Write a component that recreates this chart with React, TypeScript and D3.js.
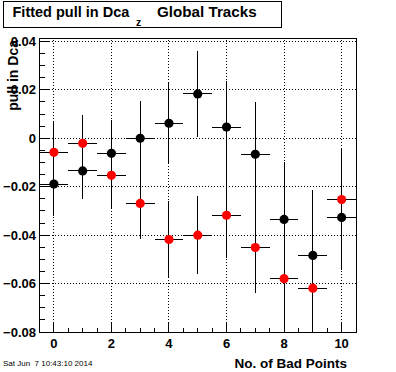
import * as d3 from 'd3'

const bins = [0, 1, 2, 3, 4, 5, 6, 7, 8, 9, 10]
const blackPull = [-0.0189, -0.0135, -0.0062, 0.0, 0.0062, 0.0183, 0.0046, -0.0066, -0.0335, -0.0484, -0.0327]
const blackErr = [0.013, 0.0116, 0.0138, 0.0152, 0.0166, 0.0178, 0.019, 0.0216, 0.0239, 0.027, 0.0215]
const redPull = [-0.0058, -0.0021, -0.0153, -0.0269, -0.0418, -0.04, -0.0318, -0.0451, -0.058, -0.0619, -0.0253]
const redErr = [0.013, 0.0116, 0.0138, 0.0145, 0.0157, 0.0162, 0.0175, 0.019, 0.0226, 0.0262, 0.0214]

const xMajor = [0, 2, 4, 6, 8, 10]
const yMajor = [-0.08, -0.06, -0.04, -0.02, 0, 0.02, 0.04]

const width = 396
const height = 372
const margin = { top: 38, right: 40, bottom: 40, left: 39.5 }
const font = '"Liberation Sans", Arial, Helvetica, sans-serif'

function Series({ values, errs, color, x, y }: {
  values: number[]
  errs: number[]
  color: string
  x: d3.ScaleLinear<number, number>
  y: d3.ScaleLinear<number, number>
}) {
  return (
    <g clipPath="url(#frame)">
      <g shapeRendering="crispEdges">
        {bins.map((b, i) => (
          <g key={b}>
            <line x1={x(b - 0.5)} x2={x(b + 0.5)} y1={y(values[i])} y2={y(values[i])} stroke="#000" />
            <line x1={x(b)} x2={x(b)} y1={y(values[i] - errs[i])} y2={y(values[i] + errs[i])} stroke="#000" />
          </g>
        ))}
      </g>
      {bins.map((b, i) => (
        <circle key={'m' + b} cx={x(b)} cy={y(values[i])} r={4.6} fill={color} />
      ))}
    </g>
  )
}

export default function App() {
  const x = d3.scaleLinear().domain([-0.5, 10.5]).range([margin.left, width - margin.right])
  const y = d3.scaleLinear().domain([-0.08, 0.0414]).range([height - margin.bottom, margin.top])
  const x0 = x.range()[0]
  const x1 = x.range()[1]
  const y0 = y.range()[0]
  const y1 = y.range()[1]

  const xMinor = d3.range(0, 10.01, 0.5)
  const yMinor = d3.range(-0.08, 0.0414, 0.005)

  return (
    <svg width={width} height={height} style={{ position: 'absolute', left: 0, top: 0, background: '#fff' }}>
      <defs>
        <clipPath id="frame">
          <rect x={x0} y={y1} width={x1 - x0} height={y0 - y1} />
        </clipPath>
      </defs>
      <rect width={width} height={height} fill="#fff" />

      {/* grid */}
      <g stroke="#000" strokeDasharray="1 2" strokeWidth={1} shapeRendering="crispEdges">
        {xMajor.map((v) => (
          <line key={'gx' + v} x1={x(v)} x2={x(v)} y1={y0} y2={y1} />
        ))}
        {yMajor.map((v) => (
          <line key={'gy' + v} x1={x0} x2={x1} y1={y(v)} y2={y(v)} />
        ))}
      </g>

      {/* ticks */}
      <g stroke="#000" shapeRendering="crispEdges">
        {xMinor.map((v) => {
          const major = xMajor.some((m) => Math.abs(m - v) < 1e-6)
          return <line key={'tx' + v} x1={x(v)} x2={x(v)} y1={y0} y2={y0 - (major ? 9 : 4.5)} />
        })}
        {yMinor.map((v) => {
          const major = yMajor.some((m) => Math.abs(m - v) < 1e-6)
          return <line key={'ty' + v} x1={x0} x2={x0 + (major ? 10 : 5)} y1={y(v)} y2={y(v)} />
        })}
      </g>

      <Series values={blackPull} errs={blackErr} color="#000" x={x} y={y} />
      <Series values={redPull} errs={redErr} color="#ff0000" x={x} y={y} />

      {/* frame */}
      <rect x={x0} y={y1} width={x1 - x0} height={y0 - y1} fill="none" stroke="#000" shapeRendering="crispEdges" />

      {/* tick labels */}
      <g fontFamily={font} fontWeight="bold" fontSize={13}>
        {xMajor.map((v) => (
          <text key={'lx' + v} x={x(v)} y={348} textAnchor="middle">{v}</text>
        ))}
        {yMajor.map((v) => (
          <text key={'ly' + v} x={36} y={y(v) + 4.5} textAnchor="end">
            {v === 0 ? '0' : d3.format('.2f')(v)}
          </text>
        ))}
      </g>

      {/* axis titles */}
      <text x={347} y={368} textAnchor="end" fontFamily={font} fontWeight="bold" fontSize={13.5}>
        No. of Bad Points
      </text>
      <text transform="translate(18,40) rotate(-90)" textAnchor="end" fontFamily={font} fontWeight="bold" fontSize={14}>
        pull in Dca
      </text>

      {/* title box */}
      <rect x={3.5} y={1.5} width={278} height={26} fill="#fff" stroke="#000" shapeRendering="crispEdges" />
      <g fontFamily={font} fontWeight="bold">
        <text x={12.5} y={17} fontSize={14.5}>Fitted pull in Dca</text>
        <text x={136} y={26} fontSize={10.5}>z</text>
        <text x={157} y={17} fontSize={15.2}>Global Tracks</text>
      </g>

      <text x={3} y={366} fontFamily={font} fontSize={8} style={{ whiteSpace: 'pre' }}>
        {'Sat Jun  7 10:43:10 2014'}
      </text>
    </svg>
  )
}
